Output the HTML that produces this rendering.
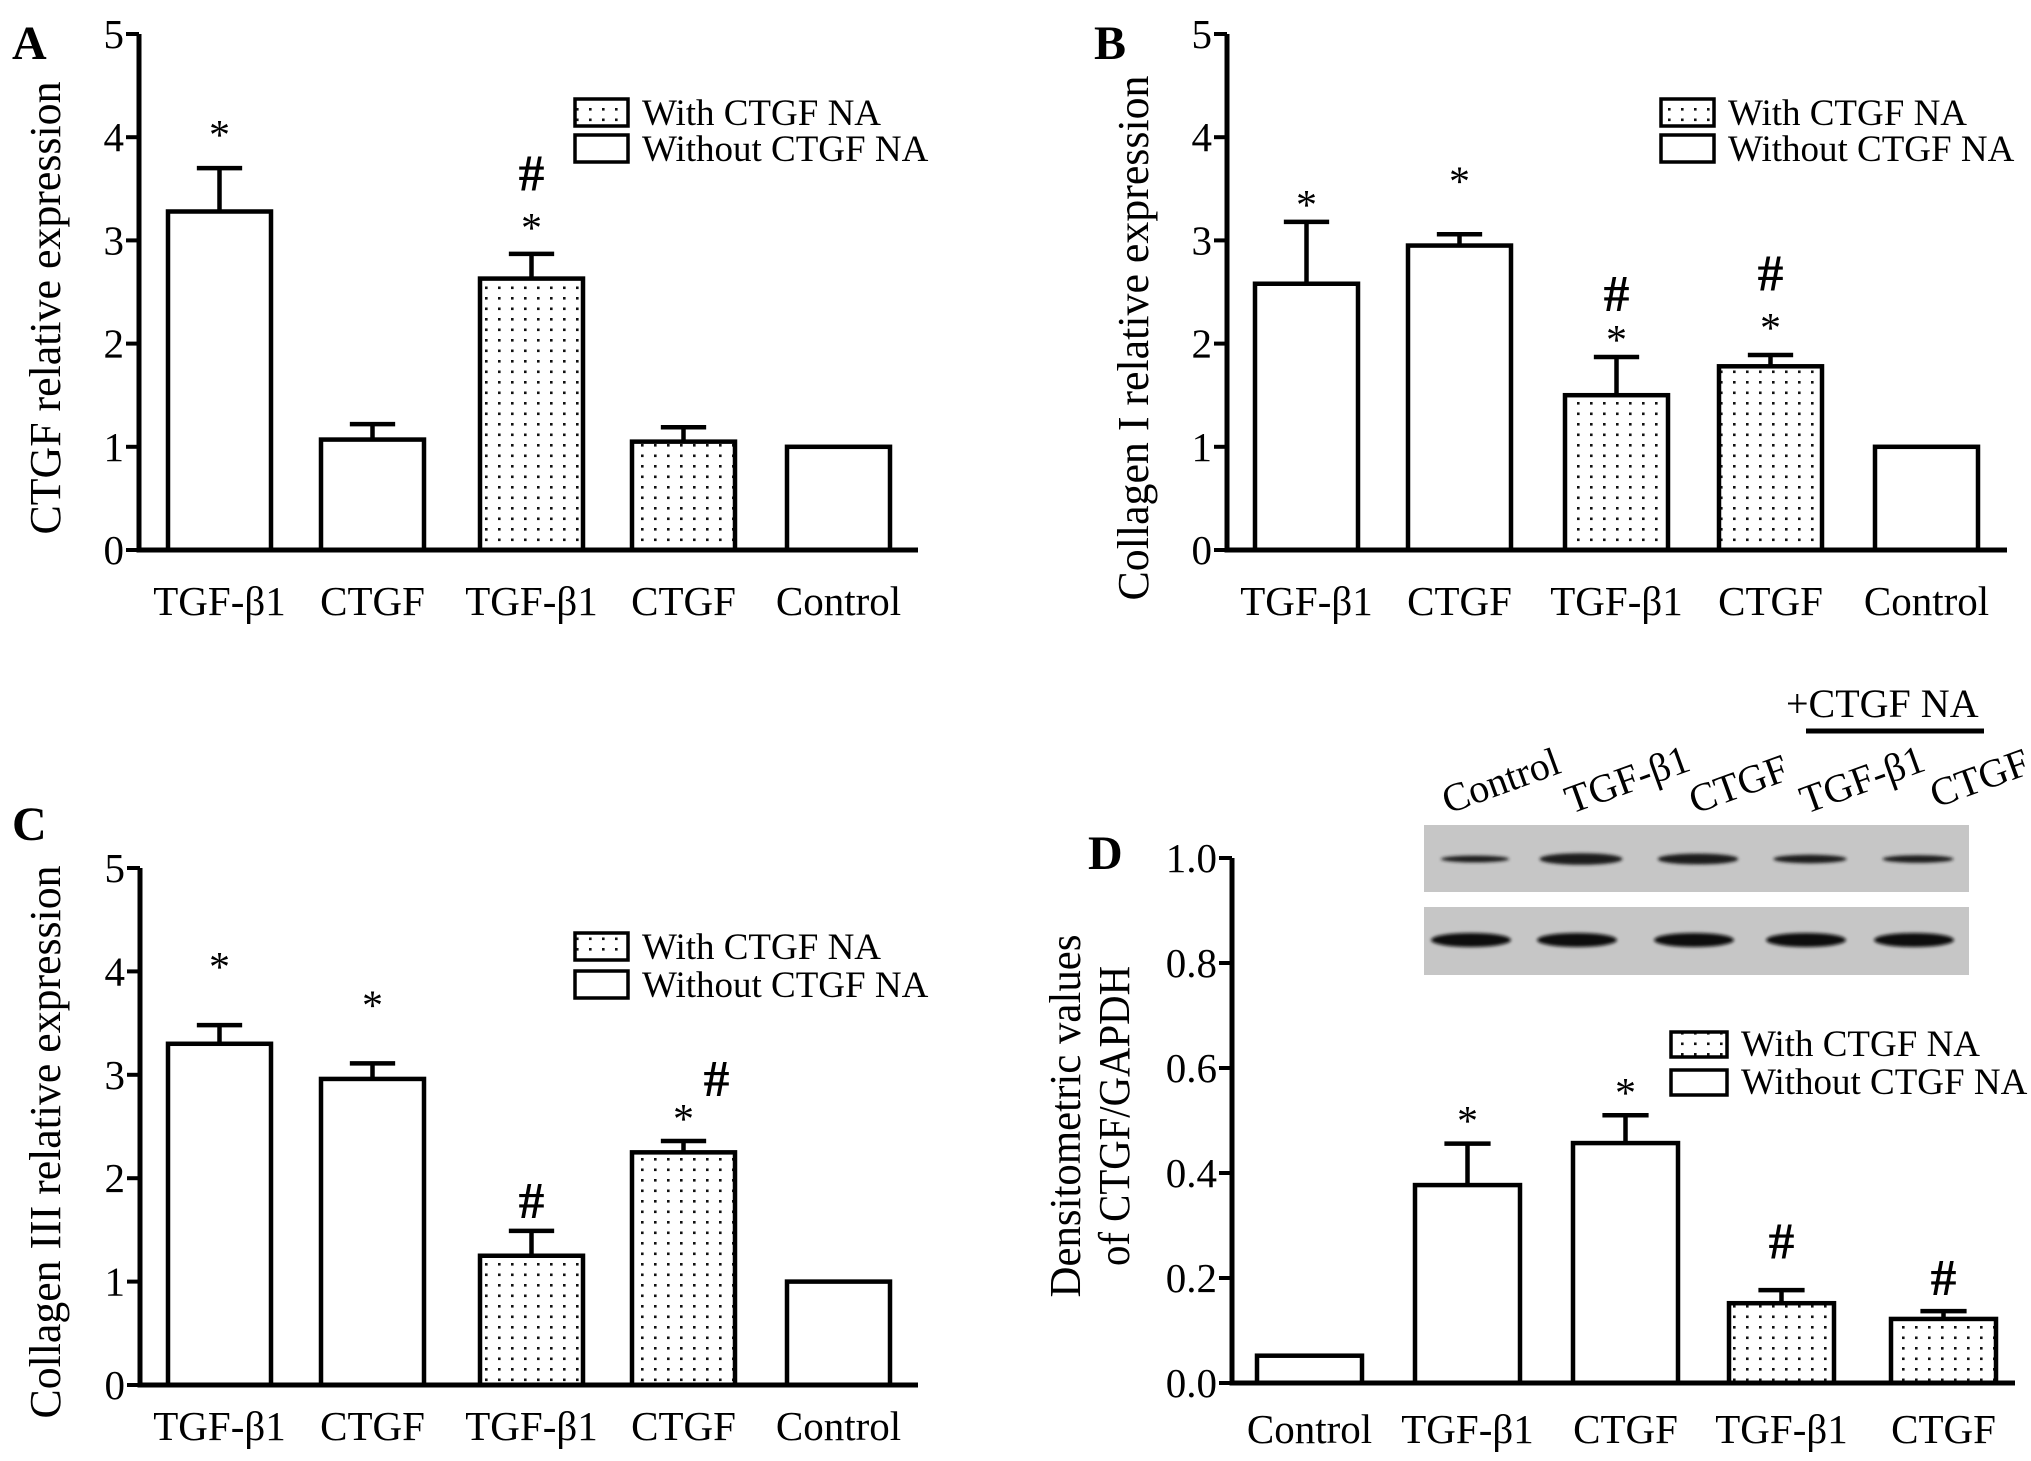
<!DOCTYPE html>
<html><head><meta charset="utf-8"><style>
html,body{margin:0;padding:0;background:#fff;}
svg{display:block;font-family:"Liberation Serif",serif;}
</style></head><body>
<svg id="fig" xmlns="http://www.w3.org/2000/svg" width="2031" height="1461" viewBox="0 0 2031 1461">
<defs>
<pattern id="dots" width="13" height="10.5" patternUnits="userSpaceOnUse">
<rect width="13" height="10.5" fill="#fff"/><rect x="4" y="3" width="2.6" height="2.6" fill="#111"/>
</pattern>
<filter id="blur" x="-20%" y="-100%" width="140%" height="300%"><feGaussianBlur stdDeviation="1.6"/></filter>
</defs>
<g id="root"></g>
</svg>
<script>
// ---- Panel A data ----
const catsA = ["TGF-β1","CTGF","TGF-β1","CTGF","Control"];
const valsA = [3.28, 1.07, 2.63, 1.05, 1.0];
const errsA = [3.70, 1.22, 2.87, 1.19, null];
const naA = [false,false,true,true,false];
const starsA = [4.1, null, 3.2, null, null];
const hashA = [null, null, 3.65, null, null];
const ticksA = ["0","1","2","3","4","5"];
// ---- Panel B data ----
const catsB = ["TGF-β1","CTGF","TGF-β1","CTGF","Control"];
const valsB = [2.58, 2.95, 1.50, 1.78, 1.0];
const errsB = [3.18, 3.06, 1.87, 1.89, null];
const naB = [false,false,true,true,false];
const starsB = [3.42, 3.65, 2.11, 2.23, null];
const hashB = [null, null, 2.48, 2.68, null];
const ticksB = ["0","1","2","3","4","5"];
// ---- Panel C data ----
const catsC = ["TGF-β1","CTGF","TGF-β1","CTGF","Control"];
const valsC = [3.30, 2.96, 1.25, 2.25, 1.0];
const errsC = [3.48, 3.11, 1.49, 2.36, null];
const naC = [false,false,true,true,false];
const starsC = [4.12, 3.75, null, 2.65, null];
const hashC = [null, null, 1.78, 2.96, null];
const ticksC = ["0","1","2","3","4","5"];
// ---- Panel D data ----
const catsD = ["Control","TGF-β1","CTGF","TGF-β1","CTGF"];
const valsD = [0.052, 0.377, 0.457, 0.152, 0.122];
const errsD = [null, 0.456, 0.51, 0.177, 0.137];
const naD = [false,false,false,true,true];
const starsD = [null, 0.514, 0.568, null, null];
const hashD = [null, null, null, 0.27, 0.2];
const ticksD = ["0.0","0.2","0.4","0.6","0.8","1.0"];
const blotLanes = ["Control","TGF-β1","CTGF","TGF-β1","CTGF"];
const blotCTGF = [0.35, 0.95, 0.85, 0.55, 0.45];

const NS="http://www.w3.org/2000/svg";
const root=document.getElementById('root');
function mk(tag,attrs,parent,text){const e=document.createElementNS(NS,tag);for(const k in attrs)e.setAttribute(k,attrs[k]);if(text!==undefined)e.textContent=text;(parent||root).appendChild(e);return e;}

function panel(cfg){
  const g=mk('g',{});
  
  
  const y=v=>cfg.y0-(v/cfg.max)*cfg.h;
  cfg.cats.forEach((c,i)=>{
    const x1=cfg.bx[i], w=cfg.bw, top=y(cfg.vals[i]);
    if(cfg.errs[i]!=null){
      const cx=x1+w/2, et=y(cfg.errs[i]);
      const el=mk('path',{d:`M${cx},${top} V${et} M${cx-w*0.22},${et} H${cx+w*0.22}`,stroke:'#000','stroke-width':4.5,fill:'none'},g);
      
      
    }
    const r=mk('rect',{x:x1,y:top,width:w,height:cfg.y0-top,fill:cfg.na[i]?'url(#dots)':'#fff',stroke:'#000','stroke-width':4.5},g);
    
    
    const t=mk('text',{x:x1+w/2,y:cfg.labelY,'font-size':41,'text-anchor':'middle'},g,c);
    
    
    if(cfg.stars[i]!=null){
      const s=mk('text',{x:x1+w/2,y:y(cfg.stars[i])+22,'font-size':42,'text-anchor':'middle'},g,'*');
      
      
    }
    if(cfg.hash[i]!=null){
      const off=(cfg.id==='c'&&i===3)?33:0;
      const h=mk('text',{x:x1+w/2+off,y:y(cfg.hash[i])+17,'font-size':52,'font-weight':'bold','text-anchor':'middle'},g,'#');
      
      
    }
  });
  const ax=mk('path',{d:`M${cfg.ax},${y(cfg.max)} V${cfg.y0} H${cfg.axEnd}`,stroke:'#000','stroke-width':5,fill:'none'},g);
  
  
  cfg.ticks.forEach((tl,i)=>{
    const v=i*cfg.max/(cfg.ticks.length-1), ty=y(v);
    const tk=mk('line',{x1:cfg.ax-13,x2:cfg.ax,y1:ty,y2:ty,stroke:'#000','stroke-width':4},g);
    
    
    const tt=mk('text',{x:cfg.ax-15,y:ty+14,'font-size':41,'text-anchor':'end'},g,tl);
    
    
  });
  cfg.titles.forEach((tt,k)=>{
    const yt=mk('text',{x:0,y:0,'font-size':44,'text-anchor':'middle',transform:`translate(${tt.x},${tt.cy}) rotate(-90)`,textLength:tt.len,lengthAdjust:'spacingAndGlyphs'},g,tt.t);
    
    
  });
  const pl=mk('text',{x:cfg.letter[0],y:cfg.letter[1],'font-size':48,'font-weight':'bold'},g,cfg.id.toUpperCase());
  
  
  const lg=mk('g',{},g);
  
  
  const [lx,ly,lw,lh,gap]=cfg.legend;
  const b1=mk('rect',{x:lx,y:ly,width:lw,height:lh,fill:'url(#dots)',stroke:'#000','stroke-width':3.5},lg);
  
  
  const t1=mk('text',{x:lx+lw+14,y:ly+lh-1,'font-size':37},lg,'With CTGF NA');
  
  
  const b2=mk('rect',{x:lx,y:ly+gap,width:lw,height:lh,fill:'#fff',stroke:'#000','stroke-width':3.5},lg);
  
  
  const t2=mk('text',{x:lx+lw+14,y:ly+gap+lh-1,'font-size':37},lg,'Without CTGF NA');
  
  
}

panel({id:'a',cats:catsA,vals:valsA,errs:errsA,na:naA,stars:starsA,hash:hashA,ticks:ticksA,max:5,
  y0:550,h:516,ax:139,axEnd:918,bx:[168,321,480,632,787],bw:103,labelY:615,
  titles:[{t:'CTGF relative expression',x:60,cy:308,len:453}],letter:[12,59],legend:[575,99,53,27,36]});
panel({id:'b',cats:catsB,vals:valsB,errs:errsB,na:naB,stars:starsB,hash:hashB,ticks:ticksB,max:5,
  y0:550,h:516,ax:1227,axEnd:2007,bx:[1255,1408,1565,1719,1875],bw:103,labelY:615,
  titles:[{t:'Collagen I relative expression',x:1148,cy:338,len:525}],letter:[1094,59],legend:[1661,99,53,27,36]});
panel({id:'c',cats:catsC,vals:valsC,errs:errsC,na:naC,stars:starsC,hash:hashC,ticks:ticksC,max:5,
  y0:1385,h:517,ax:140,axEnd:918,bx:[168,321,480,632,787],bw:103,labelY:1440,
  titles:[{t:'Collagen III relative expression',x:60,cy:1142,len:553}],letter:[12,840],legend:[575,933,53,27,38]});
panel({id:'d',cats:catsD,vals:valsD,errs:errsD,na:naD,stars:starsD,hash:hashD,ticks:ticksD,max:1.0,
  y0:1383,h:525,ax:1232,axEnd:2015,bx:[1257,1415,1573,1729,1891],bw:105,labelY:1443,
  titles:[{t:'Densitometric values',x:1080,cy:1116,len:363},{t:'of CTGF/GAPDH',x:1129,cy:1116,len:300}],letter:[1088,869],legend:[1671,1032,56,25,38]});

const blot=mk('g',{});


const bTop=mk('rect',{x:1424,y:825,width:545,height:67,fill:'#c6c6c6'},blot);


const bBot=mk('rect',{x:1424,y:907,width:545,height:68,fill:'#c6c6c6'},blot);


const laneCx=[1475,1581,1698,1810,1918];
const labelPos=[[1448,814],[1571,814],[1695,814],[1806,814],[1936,808]];
blotLanes.forEach((ln,i)=>{
  const s=blotCTGF[i];
  const e1=mk('ellipse',{cx:laneCx[i],cy:859,rx:30+12*s,ry:2+4*s,fill:'#1a1a1a',filter:'url(#blur)'},blot);
  
  
  const e2=mk('ellipse',{cx:laneCx[i]-4,cy:940,rx:40,ry:7,fill:'#0d0d0d',filter:'url(#blur)'},blot);
  
  
  const t=mk('text',{x:0,y:0,'font-size':40,transform:`translate(${labelPos[i][0]},${labelPos[i][1]}) rotate(-20)`},blot,ln);
  
  
});
const na=mk('text',{x:1786,y:717,'font-size':40},blot,'+CTGF NA');


const nl=mk('line',{x1:1806,x2:1984,y1:731,y2:731,stroke:'#000','stroke-width':5},blot);


</script>
</body></html>
